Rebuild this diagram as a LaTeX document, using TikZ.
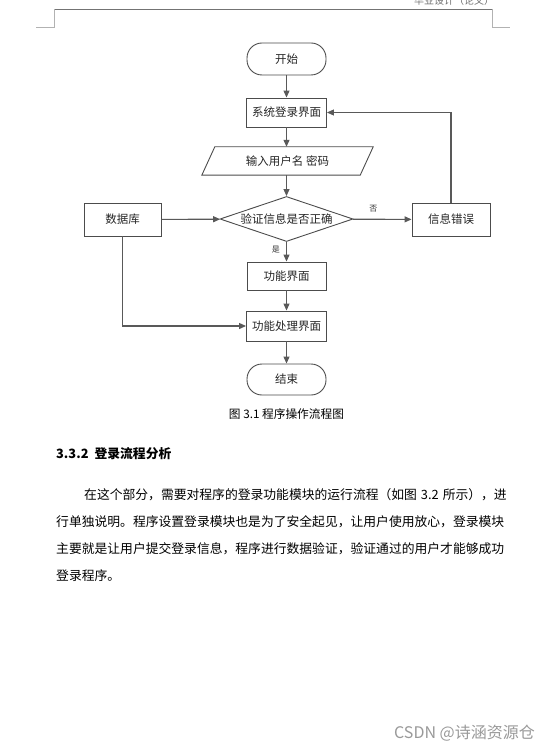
\documentclass[tikz,border=0pt]{standalone}
\usepackage{fontspec}
\setmainfont{Noto Sans CJK SC}
\usetikzlibrary{shapes.geometric,arrows.meta}
\XeTeXlinebreaklocale "zh"
\XeTeXlinebreakskip=0pt plus 3pt
\tikzset{
  box/.style={draw=black!70, line width=0.9pt, fill=white, inner sep=0pt,
    font=\fontsize{11.5}{12}\selectfont, text=black!85},
  term/.style={box, rounded corners=15pt},
  conn/.style={draw=black!65, line width=1.1pt, -{Triangle[length=7pt,width=6pt]}},
  lbl/.style={font=\fontsize{8}{9}\selectfont, text=black!80, inner sep=0pt},
  para/.style={anchor=west, inner sep=0pt, font=\fontsize{12.8}{14}\selectfont},
  hdr/.style={draw=black!55, line width=0.8pt},
  hdrl/.style={draw=black!30, line width=0.8pt}
}
\begin{document}
\begin{tikzpicture}[x=1pt,y=-1pt]
\useasboundingbox (0,0) rectangle (549,751);
% page header
\draw[hdr] (54,9) -- (492,9);
\draw[hdrl] (54,9) -- (54,27) -- (36,27);
\draw[hdrl] (492,9) -- (492,27) -- (510,27);
\node[font=\fontsize{10}{11}\selectfont, text=black!55, inner sep=0pt] (hd) at (454,0.5) {毕业设计（论文）};

% flowchart
\node[term, minimum width=79pt, minimum height=32pt] (start) at (286.5,59) {开始};
\node[box, minimum width=80pt, minimum height=29pt] (login) at (286.5,112.5) {系统登录界面};
\node[inner sep=0pt, minimum width=158pt, minimum height=28pt,
  font=\fontsize{11.5}{12}\selectfont, text=black!85] (input) at (287.5,161) {输入用户名 密码};
\draw[draw=black!70, line width=0.9pt] ([xshift=6.5pt]input.north west) -- ([xshift=6.5pt]input.north east)
  -- ([xshift=-6.5pt]input.south east) -- ([xshift=-6.5pt]input.south west) -- cycle;
\node[box, shape=diamond, aspect=2.95, minimum width=133pt, minimum height=45pt] (check) at (286.5,219) {验证信息是否正确};
\node[box, minimum width=77pt, minimum height=33pt] (db) at (122.5,219.5) {数据库};
\node[box, minimum width=78pt, minimum height=33pt] (err) at (451,219.5) {信息错误};
\node[box, minimum width=79pt, minimum height=28pt] (func) at (286.5,276) {功能界面};
\node[box, minimum width=80pt, minimum height=30pt] (proc) at (286.5,326) {功能处理界面};
\node[term, minimum width=79pt, minimum height=31pt] (end) at (286.5,379.5) {结束};

\draw[conn] (start) -- (login);
\draw[conn] (login) -- (input.north -| login.south);
\draw[conn] (input.south -| login.south) -- (check);
\draw[conn] (check) -- node[lbl, above=7pt, pos=0.35] {否} (err);
\draw[conn] (err.north) |- (login.east);
\draw[conn] (db) -- (check);
\draw[conn] (check) -- node[lbl, left=6pt, pos=0.4] {是} (func);
\draw[conn] (func) -- (proc);
\draw[conn] (db.south) |- (proc.west);
\draw[conn] (proc) -- (end);

% caption
\node[inner sep=0pt, font=\fontsize{11.7}{13}\selectfont] (cap) at (286.5,414) {图 3.1 程序操作流程图};

% section heading
\node[para, font=\fontsize{12.8}{14}\selectfont\bfseries] (head) at (56,454) {3.3.2\hspace{6pt}登录流程分析};

% paragraph
\node[para] (l1) at (84,495) {\makebox[432pt][s]{在这个部分，需要对程序的登录功能模块的运行流程（如图\hspace{4pt}3.2\hspace{4pt}所示），进}};
\node[para] (l2) at (56,522) {\makebox[460pt][s]{行单独说明。程序设置登录模块也是为了安全起见，让用户使用放心，登录模块}};
\node[para] (l3) at (56,549) {\makebox[460pt][s]{主要就是让用户提交登录信息，程序进行数据验证，验证通过的用户才能够成功}};
\node[para] (l4) at (56,576) {登录程序。};

% watermark
\node[inner sep=0pt, font=\fontsize{16}{18}\selectfont, text=black!40, anchor=east] (wm) at (535,733) {CSDN @诗涵资源仓};
\end{tikzpicture}
\end{document}
